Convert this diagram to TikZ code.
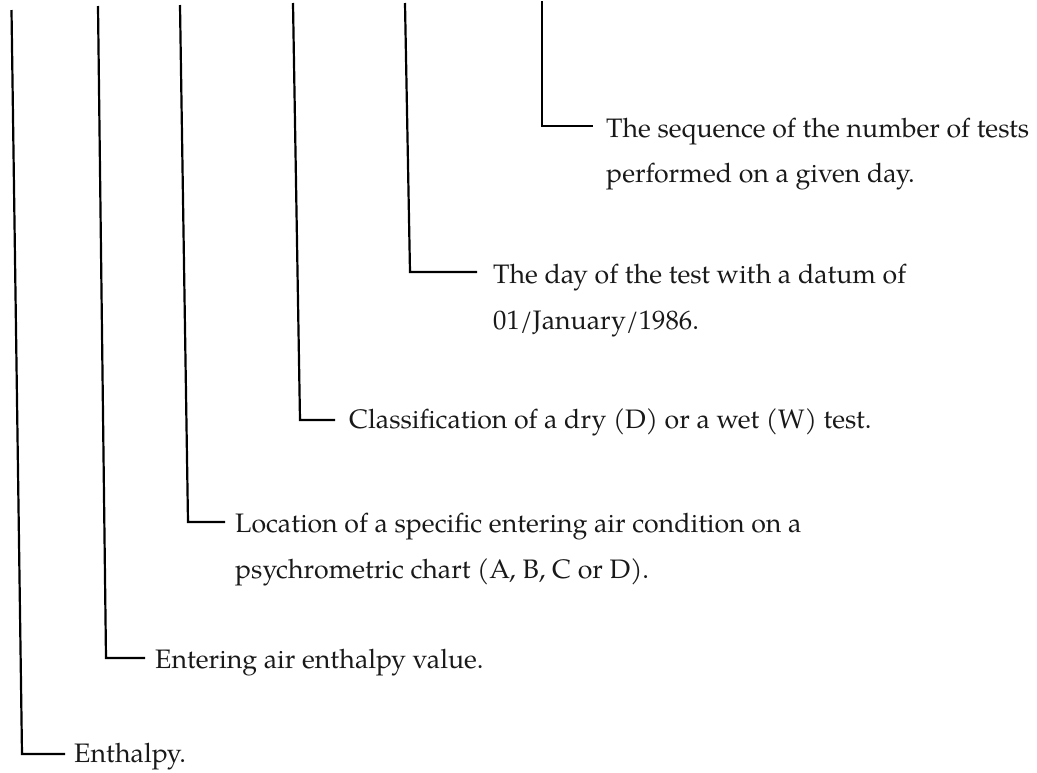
\documentclass[tikz,border=0pt]{standalone}
\usepackage{fontspec}
\setmainfont{TeX Gyre Pagella}
\begin{document}
\begin{tikzpicture}[x=1pt,y=-1pt,
  lead/.style={line width=2.2pt, color=black, line join=miter},
  lbl/.style={anchor=base west, inner sep=0pt, font=\fontsize{26.7}{32}\selectfont, text=black!90}]
\useasboundingbox (0,0) rectangle (1037,772);
% tops, corners, ends
\coordinate (t1) at (11.5,10);  \coordinate (c1) at (22,754);  \coordinate (e1) at (65,754);
\coordinate (t2) at (98,6);     \coordinate (c2) at (106,658); \coordinate (e2) at (145,658);
\coordinate (t3) at (180,5);    \coordinate (c3) at (188,522); \coordinate (e3) at (225,522);
\coordinate (t4) at (293,3);    \coordinate (c4) at (300,420); \coordinate (e4) at (335,420);
\coordinate (t5) at (405,3);    \coordinate (c5) at (410,272); \coordinate (e5) at (477,272);
\coordinate (t6) at (542,1);    \coordinate (c6) at (542,126); \coordinate (e6) at (593,126);
% labels
\node[lbl] (n1)  at (74,762)  {Enthalpy.};
\node[lbl] (n2)  at (155,668) {Entering air enthalpy value.};
\node[lbl] (n3a) at (235,532) {Location of a specific entering air condition on a};
\node[lbl] (n3b) at (235,578) {psychrometric chart (A, B, C or D).};
\node[lbl] (n4)  at (349,428) {Classification of a dry (D) or a wet (W) test.};
\node[lbl] (n5a) at (493,283) {The day of the test with a datum of};
\node[lbl] (n5b) at (493,329) {01/January/1986.};
\node[lbl] (n6a) at (606,137) {The sequence of the number of tests};
\node[lbl] (n6b) at (606,182) {performed on a given day.};
% leaders
\draw[lead] (t1) -- (c1) -- (e1);
\draw[lead] (t2) -- (c2) -- (e2);
\draw[lead] (t3) -- (c3) -- (e3);
\draw[lead] (t4) -- (c4) -- (e4);
\draw[lead] (t5) -- (c5) -- (e5);
\draw[lead] (t6) -- (c6) -- (e6);
\end{tikzpicture}
\end{document}
